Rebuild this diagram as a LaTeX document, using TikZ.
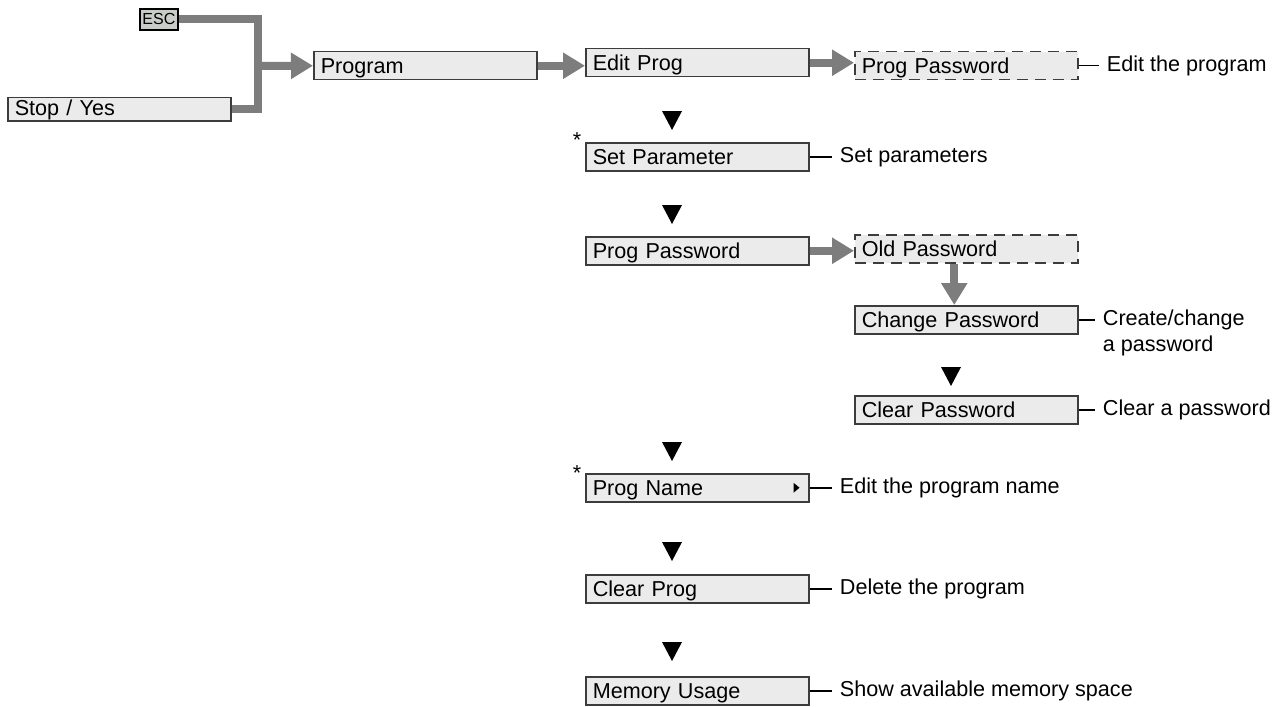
\documentclass[tikz,border=0pt]{standalone}
\usepackage{fontspec}
\setmainfont{Liberation Sans}
\usetikzlibrary{arrows.meta,positioning}
\definecolor{boxfill}{RGB}{235,235,235}
\definecolor{boxline}{RGB}{60,60,60}
\definecolor{flowgray}{RGB}{125,125,125}
\definecolor{escfill}{RGB}{200,205,200}

\tikzset{
    menubox/.style={draw=boxline, fill=boxfill, line width=0.75pt, anchor=north west,
        minimum width=111.5pt, minimum height=14pt, text width=104.5pt,
        inner xsep=3.5pt, inner ysep=0pt, align=left,
        text height=10pt, text depth=2.3pt, font=\fontsize{10.8}{13}\selectfont},
    dashbox/.style={menubox, dash pattern=on 5.5pt off 3.5pt},
    keybox/.style={draw=black, fill=escfill, line width=0.9pt, anchor=north west,
        minimum width=19pt, minimum height=10.5pt, inner sep=0pt, font=\fontsize{8}{9}\selectfont},
    flow/.style={draw=flowgray, line width=4pt},
    flowarrow/.style={flow, -{Triangle[length=11pt,width=12.5pt]}},
    note/.style={anchor=west, inner xsep=4pt, inner ysep=0pt, align=left, font=\fontsize{10.8}{13}\selectfont},
    tick/.style={draw=black, line width=0.75pt},
    star/.style={anchor=base, inner sep=0pt, font=\fontsize{10.8}{13}\selectfont},
}

\begin{document}
\begin{tikzpicture}[x=0.5pt,y=-0.5pt]
            \useasboundingbox (0,0) rectangle (1277,706);

            \node[keybox] (esc) at (139,8) {ESC};
            \node[menubox, minimum height=11.5pt, text height=8.5pt, text depth=1.8pt] (stop) at (7,97) {Stop / Yes};
            \node[menubox] (prog) at (313,51) {Program};
            \node[menubox] (edit) at (585,48) {Edit Prog};
            \node[dashbox] (ppwa) at (854,51) {Prog Password};
            \node[menubox] (setp) at (585,142) {Set Parameter};
            \node[menubox] (ppwb) at (585,236) {Prog Password};
            \node[dashbox] (oldp) at (854,234) {Old Password};
            \node[menubox] (chg) at (854,305) {Change Password};
            \node[menubox] (clr) at (854,395) {Clear Password};
            \node[menubox] (pname) at (585,473) {Prog Name};
            \node[menubox] (cprog) at (585,574) {Clear Prog};
            \node[menubox] (mem) at (585,676) {Memory Usage};

            \node[star] (sta) at (577,148) {*};
            \node[star] (stb) at (577,480) {*};

            \fill ([shift={(-16,-5)}]pname.east) -- ++(0,10) -- ++(6,-5) -- cycle;

            \foreach \x/\y in {672/111,672/205,951/367,672/442,672/542,672/642}{
                \fill (\x-10,\y) -- (\x+10,\y) -- (\x,\y+19) -- cycle;
            }

            \coordinate (jn) at (258,66);
            \draw[flow] (esc.east) -| (jn) |- (stop.east);
            \draw[flowarrow] (jn) -- (prog.west);
            \draw[flowarrow] (prog.east) -- (prog.east -| edit.west);
            \draw[flowarrow] (edit.east) -- (edit.east -| ppwa.west);
            \draw[flowarrow] (ppwb.east) -- (ppwb.east -| oldp.west);
            \draw[flowarrow] ([xshift=-6pt]oldp.south) -- ([xshift=-6pt]chg.north);

            \node[note, right=10pt of ppwa] (ppwan) {Edit the program};
            \node[note, right=11pt of setp] (setpn) {Set parameters};
            \node[note, anchor=north west] (chgn) at ([xshift=8pt,yshift=5pt]chg.east) {Create/change\\a password};
            \node[note, right=8pt of clr] (clrn) {Clear a password};
            \node[note, right=11pt of pname] (pnamen) {Edit the program name};
            \node[note, right=11pt of cprog] (cprogn) {Delete the program};
            \node[note, right=11pt of mem] (memn) {Show available memory space};

            \draw[tick] (ppwa) -- (ppwan);
            \draw[tick] (setp) -- (setpn);
            \draw[tick] (chg.east) -- (chg.east -| chgn.west);
            \draw[tick] (clr) -- (clrn);
            \draw[tick] (pname) -- (pnamen);
            \draw[tick] (cprog) -- (cprogn);
            \draw[tick] (mem) -- (memn);

        \end{tikzpicture}
\end{document}
